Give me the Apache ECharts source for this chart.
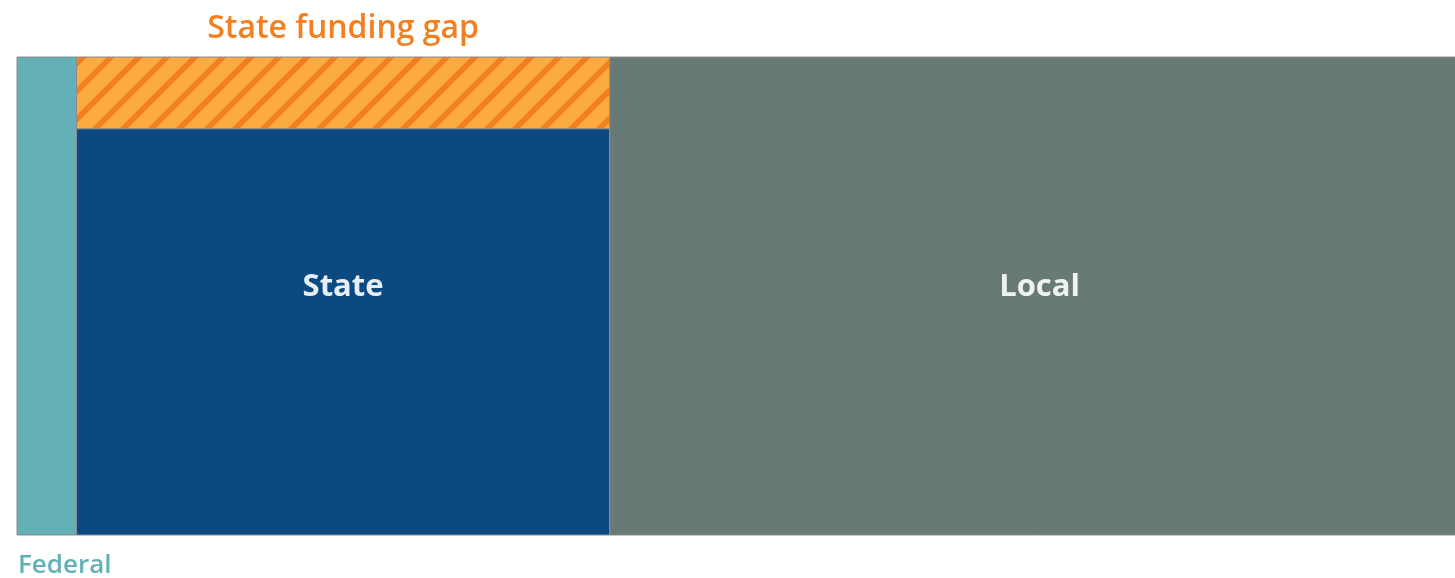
<!DOCTYPE html>
<html>
<head>
<meta charset="utf-8">
<script src="https://cdn.jsdelivr.net/npm/echarts@6/dist/echarts.min.js"></script>
<style>
html,body{margin:0;padding:0;background:#fff;}
#main{width:1455px;height:578px;}
</style>
</head>
<body>
<div id="main"></div>
<script>
// Data
const categories = ['Federal', 'State', 'Local'];
const shares = [4.1, 36.7, 59.2];        // column width (share of funding)
const fundedHeights = [100, 85, 100];    // funded part height
const gapHeights = [0, 15, 0];           // funding gap height
const gapLabel = 'State funding gap';
const visibleMax = 99;                   // the chart is cropped on the right

const colors = ['#63b0b6', '#0a4a80', '#687a76'];
const labelColors = ['#63b0b6', '#e8eef5', '#eef2f1'];

// hatch pattern tile
const tile = document.createElement('canvas');
const T = 28;
tile.width = T; tile.height = T;
const g = tile.getContext('2d');
g.fillStyle = '#fbab3f';
g.fillRect(0, 0, T, T);
g.strokeStyle = '#f47f20';
g.lineWidth = 5.5;
g.lineCap = 'square';
for (const o of [-T, 0, T]) {
  g.beginPath();
  g.moveTo(o, T);
  g.lineTo(o + T, 0);
  g.stroke();
}

const starts = [];
let acc = 0;
shares.forEach(s => { starts.push(acc); acc += s; });

const fundedData = categories.map((c, i) => [starts[i], starts[i] + shares[i], 0, fundedHeights[i], i]);
const gapData = categories.map((c, i) => [starts[i], starts[i] + shares[i], fundedHeights[i], fundedHeights[i] + gapHeights[i], i])
  .filter(d => d[3] > d[2]);

const FONT = '"Open Sans", Lato, sans-serif';

const chart = echarts.init(document.getElementById('main'));
chart.setOption({
  animation: false,
  grid: { left: 17, right: 0, top: 57, bottom: 43, show: false },
  xAxis: { type: 'value', min: 0, max: visibleMax, show: false },
  yAxis: { type: 'value', min: 0, max: 100, show: false },
  series: [
    {
      type: 'custom',
      clip: false,
      data: fundedData,
      renderItem: function (params, api) {
        const p0 = api.coord([api.value(0), api.value(3)]);
        const p1 = api.coord([api.value(1), api.value(2)]);
        const i = api.value(4);
        const children = [{
          type: 'rect',
          shape: { x: p0[0], y: p0[1], width: p1[0] - p0[0], height: p1[1] - p0[1] },
          style: { fill: colors[i], stroke: '#8c8c8c', lineWidth: 1 }
        }];
        if (i === 0) {
          children.push({
            type: 'text',
            style: { text: categories[i], x: p0[0] + 1, y: p1[1] + 31, fill: labelColors[i],
              font: '600 26px ' + FONT, textAlign: 'left', textVerticalAlign: 'middle' }
          });
        } else {
          const mid = (api.coord([0, 0])[1] + api.coord([0, 100])[1]) / 2;
          children.push({
            type: 'text',
            style: { text: categories[i], x: (p0[0] + p1[0]) / 2, y: mid - 9, fill: labelColors[i],
              font: 'bold 31px ' + FONT, textAlign: 'center', textVerticalAlign: 'middle' }
          });
        }
        return { type: 'group', children: children };
      }
    },
    {
      type: 'custom',
      clip: false,
      data: gapData,
      renderItem: function (params, api) {
        const p0 = api.coord([api.value(0), api.value(3)]);
        const p1 = api.coord([api.value(1), api.value(2)]);
        return {
          type: 'group',
          children: [{
            type: 'rect',
            shape: { x: p0[0], y: p0[1], width: p1[0] - p0[0], height: p1[1] - p0[1] },
            style: { fill: { image: tile, repeat: 'repeat' }, stroke: '#8c8c8c', lineWidth: 1 }
          }, {
            type: 'text',
            style: { text: gapLabel, x: (p0[0] + p1[0]) / 2, y: p0[1] - 28, fill: '#f47f20',
              font: '600 32px ' + FONT, textAlign: 'center', textVerticalAlign: 'middle' }
          }]
        };
      }
    }
  ]
});
</script>
</body>
</html>
